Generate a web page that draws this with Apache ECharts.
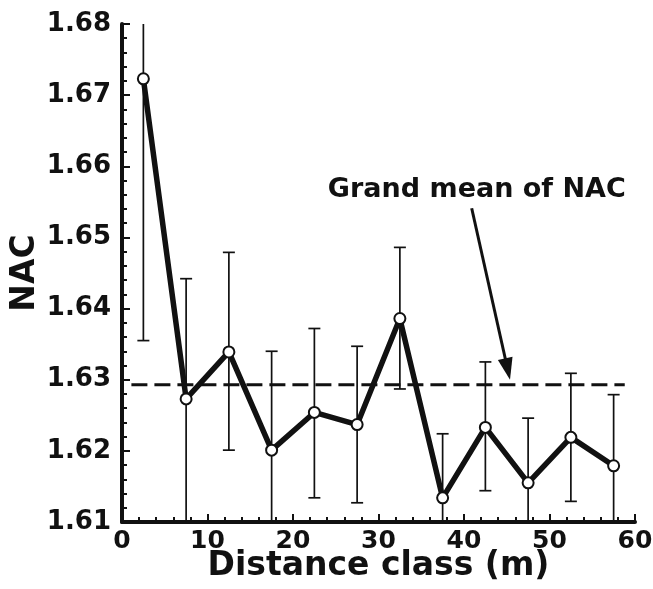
<!DOCTYPE html>
<html>
<head>
<meta charset="utf-8">
<script src="https://cdn.jsdelivr.net/npm/echarts@6/dist/echarts.min.js"></script>
<style>
html,body{margin:0;padding:0;background:#fff;overflow:hidden;}
#c{width:653px;height:589px;}
</style>
</head>
<body>
<div id="c"></div>
<script>
// Distance class midpoints (m)
var distance = [2.5, 7.5, 12.5, 17.5, 22.5, 27.5, 32.5, 37.5, 42.5, 47.5, 52.5, 57.5];
// Mean NAC per distance class
var nacMean = [1.6723, 1.6273, 1.6339, 1.6201, 1.6254, 1.6237, 1.6386, 1.6134, 1.6233, 1.6155, 1.6219, 1.6179];
// Error bar ends (upper / lower); values beyond the axis range are estimates and get clipped
var nacUpper = [1.7090, 1.6442, 1.6479, 1.6340, 1.6372, 1.6347, 1.6486, 1.6224, 1.6325, 1.6246, 1.6309, 1.6279];
var nacLower = [1.6355, 1.6095, 1.6201, 1.6062, 1.6134, 1.6127, 1.6287, 1.6044, 1.6144, 1.6064, 1.6129, 1.6079];
// Grand mean of NAC
var grandMean = 1.6293;
var grandMeanSpan = [1.1, 58.8];
// Axis ranges
var yRange = [1.61, 1.68];
var xRange = [0, 60];

var FONT = 'DejaVu Sans';
var chart = echarts.init(document.getElementById('c'), null, {renderer: 'canvas'});

var meanData = distance.map(function (d, i) { return [d, nacMean[i]]; });
var errData = distance.map(function (d, i) { return [d, nacLower[i], nacUpper[i]]; });

var option = {
  animation: false,
  backgroundColor: '#fff',
  grid: {left: 122, right: 18, top: 24, bottom: 67, containLabel: false, outerBoundsMode: 'none'},
  xAxis: {
    type: 'value', min: xRange[0], max: xRange[1], interval: 10,
    name: 'Distance class (m)', nameLocation: 'middle', nameGap: 28, nameMoveOverlap: false,
    nameTextStyle: {fontFamily: FONT, fontWeight: 'bold', fontSize: 33, color: '#111'},
    axisLine: {show: true, onZero: false, lineStyle: {color: '#111', width: 4}},
    axisTick: {show: true, inside: true, length: 8, lineStyle: {color: '#111', width: 2}},
    minorTick: {show: true, splitNumber: 5, length: 5, lineStyle: {color: '#111', width: 2}},
    axisLabel: {fontFamily: FONT, fontWeight: 'bold', fontSize: 25, color: '#111', margin: 7},
    splitLine: {show: false}, minorSplitLine: {show: false}
  },
  yAxis: {
    type: 'value', min: yRange[0], max: yRange[1], interval: 0.01,
    name: 'NAC', nameLocation: 'middle', nameGap: 80, nameRotate: 90, nameMoveOverlap: false,
    nameTextStyle: {fontFamily: FONT, fontWeight: 'bold', fontSize: 33, color: '#111'},
    axisLine: {show: true, onZero: false, lineStyle: {color: '#111', width: 4}},
    axisTick: {show: true, inside: true, length: 8, lineStyle: {color: '#111', width: 2}},
    minorTick: {show: true, splitNumber: 5, length: 5, lineStyle: {color: '#111', width: 2}},
    axisLabel: {fontFamily: FONT, fontWeight: 'bold', fontSize: 26, color: '#111', margin: 11,
      formatter: function (v) { return v.toFixed(2); }},
    splitLine: {show: false}, minorSplitLine: {show: false}
  },
  series: [
    {
      type: 'custom',
      data: errData,
      z: 2,
      clip: false,
      renderItem: function (params, api) {
        var x = api.value(0), lo = api.value(1), hi = api.value(2);
        var loC = Math.max(lo, yRange[0]), hiC = Math.min(hi, yRange[1]);
        var pLo = api.coord([x, loC]);
        var pHi = api.coord([x, hiC]);
        var half = 6;
        var style = {stroke: '#111', lineWidth: 1.7, fill: null};
        var children = [{type: 'line', shape: {x1: pLo[0], y1: pLo[1], x2: pHi[0], y2: pHi[1]}, style: style}];
        if (hi <= yRange[1]) children.push({type: 'line', shape: {x1: pHi[0] - half, y1: pHi[1], x2: pHi[0] + half, y2: pHi[1]}, style: style});
        if (lo >= yRange[0]) children.push({type: 'line', shape: {x1: pLo[0] - half, y1: pLo[1], x2: pLo[0] + half, y2: pLo[1]}, style: style});
        return {type: 'group', children: children};
      }
    },
    {
      type: 'line',
      data: [[grandMeanSpan[0], grandMean], [grandMeanSpan[1], grandMean]],
      symbol: 'none',
      z: 3,
      lineStyle: {color: '#111', width: 3, type: [16, 7]},
      markLine: {
        silent: true,
        symbol: ['none', 'triangle'],
        symbolSize: [15, 22],
        lineStyle: {color: '#111', width: 3, type: 'solid'},
        label: {show: false},
        data: [[{coord: [40.9, 1.6541]}, {coord: [45.1, 1.6315]}]]
      },
      markPoint: {
        silent: true,
        symbol: 'rect', symbolSize: 1,
        itemStyle: {color: 'rgba(0,0,0,0)'},
        label: {show: true, position: 'inside', formatter: 'Grand mean of NAC',
          fontFamily: FONT, fontWeight: 'bold', fontSize: 27, color: '#111'},
        data: [{coord: [41.5, 1.6567]}]
      }
    },
    {
      type: 'line',
      data: meanData,
      z: 4,
      symbol: 'circle',
      symbolSize: 11,
      lineStyle: {color: '#111', width: 5.5},
      itemStyle: {color: '#fff', borderColor: '#111', borderWidth: 2}
    }
  ]
};
chart.setOption(option);
</script>
</body>
</html>
